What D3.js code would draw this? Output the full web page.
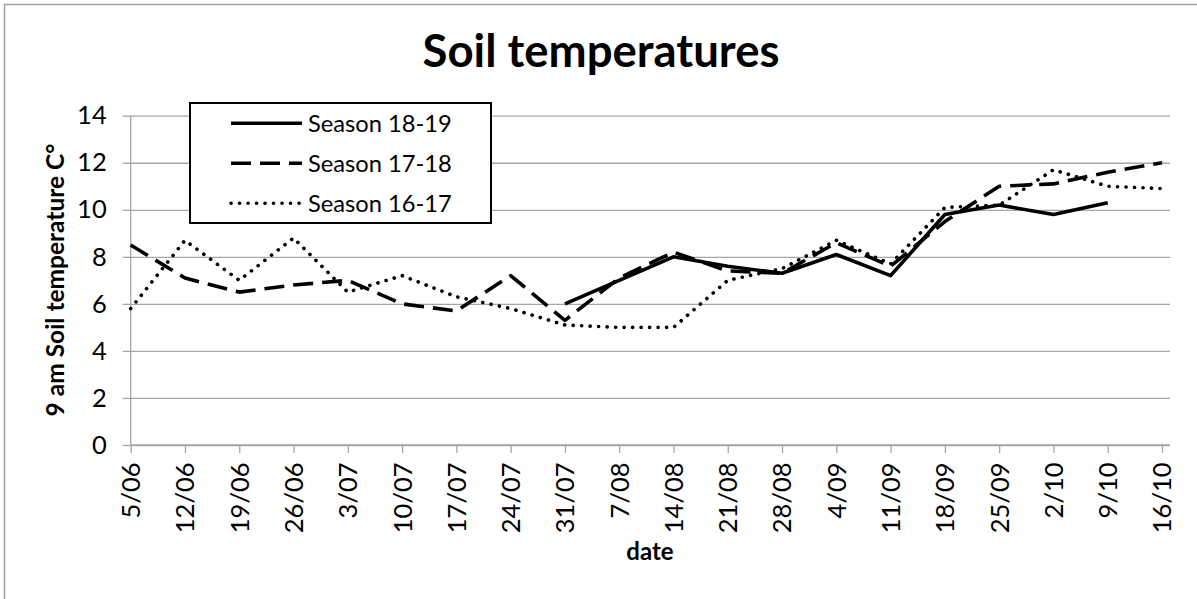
<!DOCTYPE html>
<html>
<head>
<meta charset="utf-8">
<script src="https://cdn.jsdelivr.net/npm/d3@7"></script>
<style>
  html, body { margin: 0; padding: 0; background: #fff; }
  svg { display: block; font-family: Lato, "Open Sans", sans-serif; }
</style>
</head>
<body>
<div id="chart"></div>
<script>
// week dates on the x axis
const dates = ["5/06", "12/06", "19/06", "26/06", "3/07", "10/07", "17/07", "24/07", "31/07", "7/08",
    "14/08", "21/08", "28/08", "4/09", "11/09", "18/09", "25/09", "2/10", "9/10", "16/10"];

// 9 am soil temperature per season (null = no reading)
const season1819 = [null, null, null, null, null, null, null, null, 6.0, 7.0,
    8.0, 7.6, 7.3, 8.1, 7.2, 9.8, 10.2, 9.8, 10.3, null];
const season1718 = [8.5, 7.1, 6.5, 6.8, 7.0, 6.0, 5.7, 7.2, 5.3, 7.1,
    8.2, 7.4, 7.3, 8.6, 7.6, 9.5, 11.0, 11.1, 11.6, 12.0];
const season1617 = [5.8, 8.7, 7.0, 8.8, 6.5, 7.2, 6.3, 5.8, 5.1, 5.0,
    5.0, 7.0, 7.5, 8.7, 7.7, 10.1, 10.2, 11.7, 11.0, 10.9];

const seriesNames = ["Season 18-19", "Season 17-18", "Season 16-17"];
const yTicks = [0, 2, 4, 6, 8, 10, 12, 14];

const width = 1197;
const height = 599;

// plot area
const plot = {left: 130.7, right: 1170, top: 115.7, bottom: 445};

const svg = d3.select("#chart").append("svg")
    .attr("width", width)
    .attr("height", height);

// outer chart border
svg.append("rect")
    .attr("x", 4.5)
    .attr("y", 4.5)
    .attr("width", width + 20)
    .attr("height", height + 20)
    .attr("fill", "none")
    .attr("stroke", "#a0a0a0")
    .attr("stroke-width", 1.5);

const xScale = d3.scalePoint()
    .domain(dates)
    .range([plot.left, 1162]);

const yScale = d3.scaleLinear()
    .domain([0, 14])
    .range([plot.bottom, plot.top]);

// y axis + horizontal grid
svg.append("g")
    .attr("transform", `translate(${plot.left},0)`)
    .call(d3.axisLeft(yScale).tickValues(yTicks).tickSize(8).tickPadding(16).tickFormat(d3.format("d")))
    .call(g => g.selectAll(".tick line").clone()
        .attr("x1", 0)
        .attr("x2", plot.right - plot.left))
    .call(g => g.selectAll(".tick line").attr("stroke", "#a6a6a6").attr("stroke-width", 1.3))
    .call(g => g.select(".domain").attr("stroke", "#a6a6a6").attr("stroke-width", 1.3)
        .attr("d", `M0,${plot.top}V${plot.bottom}`))
    .call(g => g.selectAll("text")
        .attr("font-size", 25.5)
        .attr("font-family", "Lato")
        .attr("fill", "#000"));

// x axis
svg.append("g")
    .attr("transform", `translate(0,${plot.bottom})`)
    .call(d3.axisBottom(xScale).tickSize(8).tickPadding(0))
    .call(g => g.select(".domain").attr("stroke", "#a6a6a6").attr("stroke-width", 1.3)
        .attr("d", `M${plot.left},0H${plot.right}`))
    .call(g => g.selectAll(".tick line").attr("stroke", "#a6a6a6").attr("stroke-width", 1.3))
    .call(g => g.selectAll("text")
        .attr("font-size", 25.5)
        .attr("font-family", "Lato")
        .attr("fill", "#000")
        .attr("text-anchor", "end")
        .attr("transform", "rotate(-90)")
        .attr("x", -17.5)
        .attr("y", 0)
        .attr("dy", "0.35em"));

// lines
const styles = [
    {data: season1819, dash: null, cap: "butt"},
    {data: season1718, dash: "20,9", cap: "butt"},
    {data: season1617, dash: "0.1,8.4", cap: "round"}
];

const line = d3.line()
    .defined(d => d.v !== null)
    .x(d => xScale(d.date))
    .y(d => yScale(d.v));

// draw in reverse order so the 18-19 season sits on top
styles.slice().reverse().forEach(s => {
    const points = dates.map((date, i) => ({date: date, v: s.data[i]}));
    svg.append("path")
        .datum(points)
        .attr("fill", "none")
        .attr("stroke", "#000")
        .attr("stroke-width", 3.6)
        .attr("stroke-linejoin", "round")
        .attr("stroke-linecap", s.cap)
        .attr("stroke-dasharray", s.dash)
        .attr("d", line);
});

// title
svg.append("text")
    .attr("x", 601)
    .attr("y", 67)
    .attr("text-anchor", "middle")
    .attr("font-size", 45.5)
    .attr("font-weight", "bold")
    .text("Soil temperatures");

// y axis title
svg.append("text")
    .attr("transform", `translate(64, 280) rotate(-90)`)
    .attr("text-anchor", "middle")
    .attr("font-size", 24.5)
    .attr("font-weight", "bold")
    .text("9 am Soil temperature C°");

// x axis title
svg.append("text")
    .attr("x", 650)
    .attr("y", 560)
    .attr("text-anchor", "middle")
    .attr("font-size", 24)
    .attr("font-weight", "bold")
    .text("date");

// legend
const legend = svg.append("g");
legend.append("rect")
    .attr("x", 190)
    .attr("y", 103)
    .attr("width", 301)
    .attr("height", 120)
    .attr("fill", "#fff")
    .attr("stroke", "#000")
    .attr("stroke-width", 2);

seriesNames.forEach((name, i) => {
    const y = 123.3 + i * 40;
    legend.append("line")
        .attr("x1", 231)
        .attr("x2", 302)
        .attr("y1", y)
        .attr("y2", y)
        .attr("stroke", "#000")
        .attr("stroke-width", 3.6)
        .attr("stroke-linecap", styles[i].cap)
        .attr("stroke-dasharray", styles[i].dash);
    legend.append("text")
        .attr("x", 308)
        .attr("y", y)
        .attr("dy", "0.35em")
        .attr("font-size", 23.7)
        .text(name);
});
</script>
</body>
</html>
